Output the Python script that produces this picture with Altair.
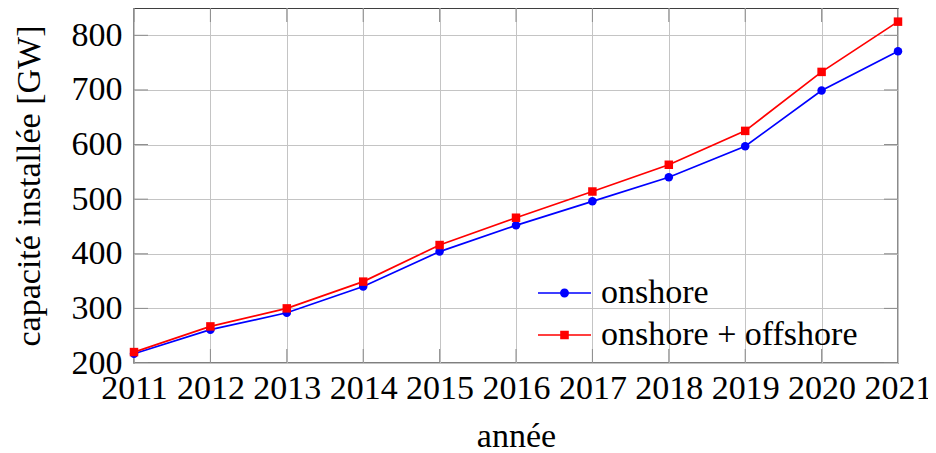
import altair as alt
import pandas as pd

years = [2011, 2012, 2013, 2014, 2015, 2016, 2017, 2018, 2019, 2020, 2021]
onshore = [217, 261, 292, 340, 404, 452, 496, 540, 597, 699, 771]
onshore_offshore = [220, 267, 300, 349, 416, 466, 514, 563, 625, 733, 825]
series_names = ["onshore", "onshore + offshore"]
series_colors = ["#0000ff", "#ff0000"]
series_markers = ["circle", "square"]
y_ticks = [200, 300, 400, 500, 600, 700, 800]
y_domain = [200, 850]
x_domain = [2011, 2021]

FONT = "Liberation Serif, Times New Roman, DejaVu Serif, serif"
FS = 34

rows = []
for yr, a, b in zip(years, onshore, onshore_offshore):
    rows.append({"year": yr, "value": a, "series": series_names[0]})
    rows.append({"year": yr, "value": b, "series": series_names[1]})
df = pd.DataFrame(rows)

xscale = alt.Scale(domain=x_domain, nice=False, zero=False)
yscale = alt.Scale(domain=y_domain, nice=False, zero=False)
cscale = alt.Scale(domain=series_names, range=series_colors)

# legend glyphs: line segment + marker (filled, same winding)
circle_path = ("M-1,-0.08H4.3V0.08H-1Z"
               "M1.2,0A0.45,0.45,0,1,1,2.1,0A0.45,0.45,0,1,1,1.2,0Z")
square_path = ("M-1,-0.08H4.3V0.08H-1Z"
               "M1.22,-0.43H2.08V0.43H1.22Z")

x_axis = alt.Axis(values=years, format="d", title="année", labelFlush=False,
                  labelOverlap=False, ticks=False, labelPadding=8, titlePadding=14,
                  grid=True, gridColor="#c4c4c4", gridWidth=1, domain=False,
                  labelFont=FONT, labelFontSize=FS, labelColor="black",
                  titleFont=FONT, titleFontSize=FS, titleFontWeight="normal", titleColor="black")
y_axis = alt.Axis(values=y_ticks, title="capacité installée [GW]", ticks=False,
                  labelPadding=12, titlePadding=25, grid=True, gridColor="#c4c4c4",
                  gridWidth=1, domain=False, labelFont=FONT, labelFontSize=FS,
                  labelColor="black", titleFont=FONT, titleFontSize=FS,
                  titleFontWeight="normal", titleColor="black")

fill_expr = "datum.value === '%s' ? '%s' : '%s'" % (series_names[0], series_colors[0], series_colors[1])
legend_kw = dict(orient="none", legendX=397, legendY=268, title=None, padding=0,
                 labelFont=FONT, labelFontSize=FS, labelColor="black", labelOffset=36,
                 symbolSize=400, symbolStrokeWidth=0, symbolOpacity=1,
                 symbolFillColor={"expr": fill_expr},
                 rowPadding=8, labelLimit=400)

base = alt.Chart(df)

lines = base.mark_line(strokeWidth=1.7).encode(
    x=alt.X("year:Q", scale=xscale, axis=x_axis),
    y=alt.Y("value:Q", scale=yscale, axis=y_axis),
    color=alt.Color("series:N", scale=cscale, legend=None),
)

points = base.mark_point(filled=True, opacity=1, size=72).encode(
    x=alt.X("year:Q", scale=xscale),
    y=alt.Y("value:Q", scale=yscale),
    color=alt.Color("series:N", scale=cscale, legend=None),
    shape=alt.Shape("series:N", scale=alt.Scale(domain=series_names, range=series_markers), legend=None),
)

legend_layer = base.mark_point(filled=True, opacity=0).encode(
    x=alt.X("year:Q", scale=xscale),
    y=alt.Y("value:Q", scale=yscale),
    color=alt.Color("series:N", scale=cscale, legend=None),
    shape=alt.Shape("series:N", scale=alt.Scale(domain=series_names, range=[circle_path, square_path]),
                    legend=alt.Legend(**legend_kw)),
)

# inner tick marks along the frame
xt = pd.DataFrame({"year": years, "lo": [y_domain[0]] * len(years), "hi": [y_domain[1]] * len(years)})
yt = pd.DataFrame({"v": y_ticks, "l": [x_domain[0]] * len(y_ticks), "r": [x_domain[1]] * len(y_ticks)})
tick_style = dict(color="#8c8c8c", thickness=1, size=28, clip=True, opacity=1)
t1 = alt.Chart(xt).mark_tick(orient="vertical", **tick_style).encode(
    x=alt.X("year:Q", scale=xscale), y=alt.Y("lo:Q", scale=yscale))
t2 = alt.Chart(xt).mark_tick(orient="vertical", **tick_style).encode(
    x=alt.X("year:Q", scale=xscale), y=alt.Y("hi:Q", scale=yscale))
t3 = alt.Chart(yt).mark_tick(orient="horizontal", **tick_style).encode(
    x=alt.X("l:Q", scale=xscale), y=alt.Y("v:Q", scale=yscale))
t4 = alt.Chart(yt).mark_tick(orient="horizontal", **tick_style).encode(
    x=alt.X("r:Q", scale=xscale), y=alt.Y("v:Q", scale=yscale))

chart = alt.layer(t1, t2, t3, t4, lines, points, legend_layer).resolve_scale(
    shape="independent"
).properties(
    width=764, height=355,
    background="white",
    autosize=alt.AutoSizeParams(type="none"),
    padding={"left": 126, "top": 0, "right": 30, "bottom": 86},
).configure_view(stroke="black", strokeWidth=1.3)

chart.save("out.html", embed_options={"renderer": "svg", "actions": False})
